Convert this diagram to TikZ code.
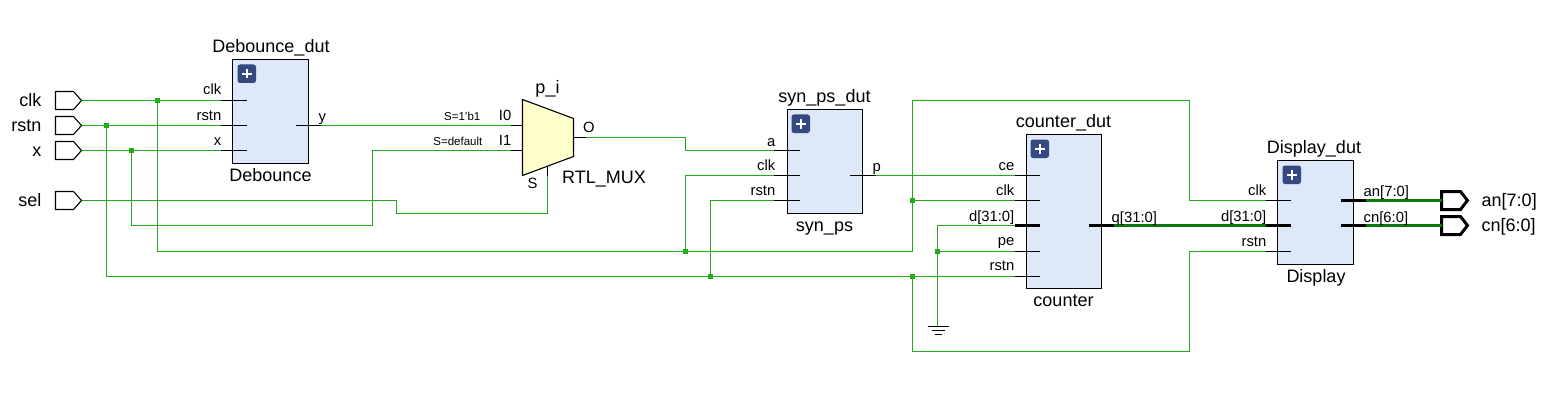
\documentclass[tikz,border=0pt]{standalone}
\usepackage{fontspec}
\setmainfont{Liberation Sans}
\definecolor{wire}{HTML}{22A81A}
\definecolor{bus}{HTML}{0B7A0B}
\definecolor{jn}{HTML}{1FAE12}
\definecolor{blk}{HTML}{DDE8F8}
\definecolor{muxf}{HTML}{FFFFCC}
\definecolor{plusc}{HTML}{33497F}
\tikzset{
  wireline/.style={draw=wire,line width=1.4pt},
  busline/.style={draw=bus,line width=3pt},
  stub/.style={draw=black,line width=1.1pt},
  bstub/.style={draw=black,line width=3pt},
  blockbox/.style={draw=black,fill=blk,line width=1.1pt,outer sep=0pt},
  junc/.style={fill=jn,draw=none,minimum size=5.5pt,inner sep=0pt,rectangle},
  big/.style={font=\fontsize{18}{20}\selectfont,inner sep=0pt},
  pin/.style={font=\fontsize{14.8}{16}\selectfont,inner sep=0pt},
  tiny/.style={font=\fontsize{11.5}{13}\selectfont,inner sep=0pt},
}
\newcommand{\plusicon}[2]{%
  \fill[plusc,rounded corners=2.5pt] (#1,#2) rectangle ++(18.5,18.5);
  \draw[white,line width=2.4pt] (#1+4.5,#2+9.25) -- ++(9.5,0) (#1+9.25,#2+4.5) -- ++(0,9.5);
}
\newcommand{\inport}[3]{% name, x, y
  \draw[black,line width=1.1pt] (#2,#3-9) -- ++(18,0) -- ++(8,9) -- ++(-8,9) -- ++(-18,0) -- cycle;
  \coordinate (#1) at (#2+26.5,#3);
}
\newcommand{\outport}[3]{%
  \draw[black,line width=3pt] (#2,#3-9) -- ++(19,0) -- ++(7,9) -- ++(-7,9) -- ++(-19,0) -- cycle;
  \coordinate (#1) at (#2,#3);
}
\begin{document}
\begin{tikzpicture}[x=1pt,y=-1pt]
\useasboundingbox (-0.5,-0.5) rectangle (1542.5,419.5);
\fill[white] (-0.5,-0.5) rectangle (1542.5,419.5);

% coordinates of wire ends
\coordinate (dbclk) at (220,100);
\coordinate (dbrst) at (220,125);
\coordinate (dbx) at (220,150);
\coordinate (dby) at (320,125);
\coordinate (mi0) at (510,125);
\coordinate (mi1) at (510,150);
\coordinate (ms) at (547,175);
\coordinate (mo) at (585,137);
\coordinate (spa) at (773,150);
\coordinate (spclk) at (773,175);
\coordinate (sprst) at (773,200);
\coordinate (spp) at (875,175);
\coordinate (cce) at (1014,175);
\coordinate (cclk) at (1014,200);
\coordinate (cd) at (1014,225);
\coordinate (cpe) at (1014,251);
\coordinate (crst) at (1014,276);
\coordinate (cq) at (1113,225);
\coordinate (dclk) at (1265,200);
\coordinate (dd) at (1265,225);
\coordinate (drst) at (1265,251);
\coordinate (dan) at (1365,200);
\coordinate (dcn) at (1365,225);
\coordinate (gnd) at (937,326);

% ports
\inport{pclk}{55}{100}
\inport{prst}{55}{125}
\inport{px}{55}{150}
\inport{psel}{55}{200}
\outport{pan}{1441}{200}
\outport{pcn}{1441}{225}

% junctions
\node[junc] (j1) at (157,100) {};
\node[junc] (j2) at (106,125) {};
\node[junc] (j3) at (131,150) {};
\node[junc] (j4) at (685,251) {};
\node[junc] (j5) at (710,276) {};
\node[junc] (j6) at (912,200) {};
\node[junc] (j7) at (937,251) {};
\node[junc] (j8) at (912,276) {};

% wires
\draw[wireline] (pclk) -- (j1.center) -- (dbclk);
\draw[wireline] (prst) -- (j2.center) -- (dbrst);
\draw[wireline] (px) -- (j3.center) -- (dbx);
\draw[wireline] (dby) -- (mi0);
\draw[wireline] (psel) -- (396,200) -- (396,213) -- (547,213) -- (ms);
\draw[wireline] (j3.center) -- (131,225) -- (372,225) -- (372,150) -- (mi1);
\draw[wireline] (j1.center) -- (157,251) -- (j4.center) -- (912,251) -- (j6.center) -- (912,100) -- (1189,100) -- (1189,200) -- (dclk);
\draw[wireline] (j2.center) -- (106,276) -- (j5.center) -- (j8.center) -- (crst);
\draw[wireline] (mo) -- (685,137) -- (685,150) -- (spa);
\draw[wireline] (j4.center) -- (685,175) -- (spclk);
\draw[wireline] (j5.center) -- (710,200) -- (sprst);
\draw[wireline] (spp) -- (cce);
\draw[wireline] (j6.center) -- (cclk);
\draw[wireline] (cd) -- (937,225) -- (j7.center) -- (gnd);
\draw[wireline] (j7.center) -- (cpe);
\draw[wireline] (j8.center) -- (912,351) -- (1189,351) -- (1189,251) -- (drst);
\draw[busline] (cq) -- (dd);
\draw[busline] (dan) -- (pan);
\draw[busline] (dcn) -- (pcn);

% ground
\draw[black,line width=1.1pt] (927,326) -- (948,326) (931,330) -- (944,330) (934,334) -- (941,334);

% blocks
\node[blockbox,inner sep=0pt,anchor=north west,minimum width=76pt,minimum height=104pt] (dbbox) at (232,59) {};
\node[blockbox,inner sep=0pt,anchor=north west,minimum width=75pt,minimum height=104pt] (spbox) at (787,109) {};
\node[blockbox,inner sep=0pt,anchor=north west,minimum width=75pt,minimum height=154pt] (cbox) at (1026,134) {};
\node[blockbox,inner sep=0pt,anchor=north west,minimum width=76pt,minimum height=104pt] (dbox) at (1277,160) {};
\plusicon{237}{64}
\plusicon{791}{114}
\plusicon{1030}{139}
\plusicon{1282}{165}

% mux
\draw[black,line width=1.1pt,fill=muxf] (522,99) -- (573,118) -- (573,156) -- (522,175) -- cycle;

% stubs
\draw[stub] (dbclk) -- ++(26,0);
\draw[stub] (dbrst) -- ++(26,0);
\draw[stub] (dbx) -- ++(26,0);
\draw[stub] (dby) -- ++(-25,0);
\draw[stub] (mi0) -- ++(12,0);
\draw[stub] (mi1) -- ++(12,0);
\draw[stub] (ms) -- ++(0,-9);
\draw[stub] (mo) -- ++(-12,0);
\draw[stub] (spa) -- ++(26,0);
\draw[stub] (spclk) -- ++(26,0);
\draw[stub] (sprst) -- ++(26,0);
\draw[stub] (spp) -- ++(-26,0);
\draw[stub] (cce) -- ++(25,0);
\draw[stub] (cclk) -- ++(25,0);
\draw[bstub] (cd) -- ++(25,0);
\draw[stub] (cpe) -- ++(25,0);
\draw[stub] (crst) -- ++(25,0);
\draw[bstub] (cq) -- ++(-25,0);
\draw[stub] (dclk) -- ++(25,0);
\draw[bstub] (dd) -- ++(25,0);
\draw[stub] (drst) -- ++(25,0);
\draw[bstub] (dan) -- ++(-25,0);
\draw[bstub] (dcn) -- ++(-25,0);

% port labels
\node[big,anchor=base east] (lclk) at (41,106) {clk};
\node[big,anchor=base east] (lrst) at (41,131) {rstn};
\node[big,anchor=base east] (lx) at (41,156) {x};
\node[big,anchor=base east] (lsel) at (41,206) {sel};
\node[big,anchor=base west] (lan) at (1481,206) {an[7:0]};
\node[big,anchor=base west] (lcn) at (1481,231) {cn[6:0]};

% block labels
\node[big,anchor=base] (n1) at (270.5,52) {Debounce\_dut};
\node[big,anchor=base] (n2) at (270,181) {Debounce};
\node[big,anchor=base] (n3) at (824,102) {syn\_ps\_dut};
\node[big,anchor=base] (n4) at (824,231) {syn\_ps};
\node[big,anchor=base] (n5) at (1063,127) {counter\_dut};
\node[big,anchor=base] (n6) at (1063,306) {counter};
\node[big,anchor=base] (n7) at (1313.5,153) {Display\_dut};
\node[big,anchor=base] (n8) at (1315.5,282) {Display};
\node[big,anchor=base] (n9) at (547,93) {p\_i};
\node[big,anchor=base west] (n10) at (561.5,183) {RTL\_MUX};

% pin labels
\node[pin,anchor=base east] at (221,94) {clk};
\node[pin,anchor=base east] at (221,120) {rstn};
\node[pin,anchor=base east] at (221,145) {x};
\node[pin,anchor=base west] at (318,121) {y};
\node[pin,anchor=base east] at (511,120) {I0};
\node[pin,anchor=base east] at (511,145) {I1};
\node[pin,anchor=base] at (532,188) {S};
\node[pin,anchor=base] at (588.5,132) {O};
\node[tiny,anchor=base east] at (480,120) {S=1'b1};
\node[tiny,anchor=base east] at (482,145) {S=default};
\node[pin,anchor=base east] at (775,146) {a};
\node[pin,anchor=base east] at (775,170) {clk};
\node[pin,anchor=base east] at (775,195) {rstn};
\node[pin,anchor=base west] at (872,171) {p};
\node[pin,anchor=base east] at (1014,170) {ce};
\node[pin,anchor=base east] at (1014,195) {clk};
\node[pin,anchor=base east] at (1014,221) {d[31:0]};
\node[pin,anchor=base east] at (1014,245) {pe};
\node[pin,anchor=base east] at (1014,270) {rstn};
\node[pin,anchor=base west] at (1111,221.5) {q[31:0]};
\node[pin,anchor=base east] at (1266,195) {clk};
\node[pin,anchor=base east] at (1266,221) {d[31:0]};
\node[pin,anchor=base east] at (1266,246) {rstn};
\node[pin,anchor=base west] at (1363,196) {an[7:0]};
\node[pin,anchor=base west] at (1363,221.5) {cn[6:0]};
\end{tikzpicture}
\end{document}
